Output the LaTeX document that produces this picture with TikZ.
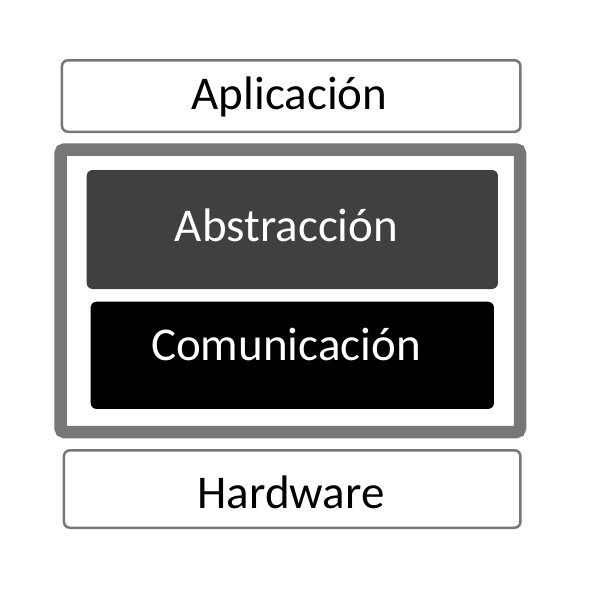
\documentclass[tikz,border=0pt]{standalone}
\usepackage{fontspec}
\setmainfont{Carlito}
\definecolor{framegray}{HTML}{777777}
\definecolor{absgray}{HTML}{404040}

\begin{document}
\begin{tikzpicture}[x=1pt,y=-1pt,
    layer/.style={rectangle,draw=framegray,line width=2.5pt,rounded corners=6pt,fill=white},
    inner layer/.style={rectangle,rounded corners=6pt},
    layer text/.style={inner sep=0pt,text height=30.3pt,text depth=0pt,
                       font=\fontsize{47}{56}\selectfont}]
  \useasboundingbox (0,0) rectangle (600,600);

  \node[layer,minimum width=458.5pt,minimum height=71.5pt] (app) at (291.2,96) {};
  \node[rectangle,draw=framegray,line width=12.5pt,rounded corners=4pt,
        minimum width=459.5pt,minimum height=282.5pt] (frame) at (290.25,290.75) {};
  \node[inner layer,fill=absgray,minimum width=411.3pt,minimum height=119pt] (abs) at (292.3,229.5) {};
  \node[inner layer,fill=black,minimum width=403.3pt,minimum height=107.3pt] (com) at (292.3,355.3) {};
  \node[layer,minimum width=456.5pt,minimum height=77.5pt] (hw) at (292.2,489) {};

  \node[layer text] (app text) at (289.5,94) {Aplicación};
  \node[layer text,text=white] (abs text) at (286.5,226.2) {Abstracción};
  \node[layer text,text=white] (com text) at (286,345.3) {Comunicación};
  \node[layer text] (hw text) at (291,493.7) {Hardware};
\end{tikzpicture}
\end{document}
